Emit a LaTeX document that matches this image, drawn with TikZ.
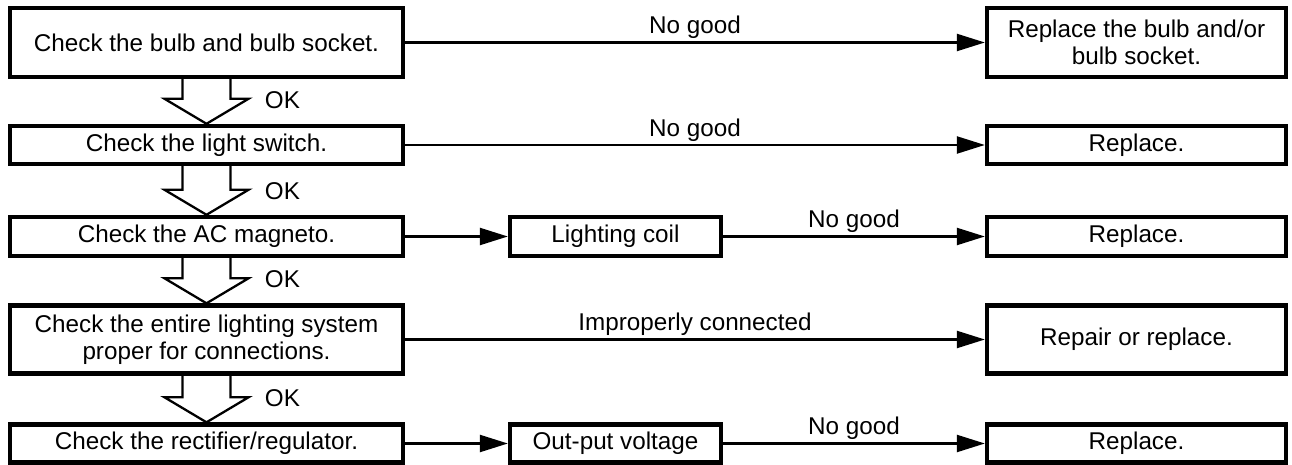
\documentclass[tikz,border=0pt]{standalone}
\usepackage{fontspec}
\setmainfont{Liberation Sans}
\usetikzlibrary{arrows.meta,calc}
\tikzset{
  box/.style={draw, line width=2.5pt, fill=white, align=center, inner sep=2pt},
  leftbox/.style={box, minimum width=7.86cm},
  midbox/.style={box, minimum width=4.22cm},
  rightbox/.style={box, minimum width=5.98cm},
  conn/.style={line width=1.3pt, -{Triangle[length=0.56cm,width=0.34cm]}},
  hollow/.style={line width=1.3pt, line join=miter},
  lbl/.style={above, inner sep=1.5pt},
}

\begin{document}
\begin{tikzpicture}[x=0.02cm, y=-0.02cm, font=\fontsize{13.8}{15.5}\selectfont]
\useasboundingbox (0,0) rectangle (1292,465);
% check steps
\node[leftbox, minimum height=1.38cm] (c1) at (206.5,42.5) {Check the bulb and bulb socket.};
\node[leftbox, minimum height=0.76cm] (c2) at (206.5,145) {Check the light switch.};
\node[leftbox, minimum height=0.78cm] (c3) at (206.5,236.5) {Check the AC magneto.};
\node[leftbox, minimum height=1.36cm] (c4) at (206.5,339.5) {Check the entire lighting system\\proper for connections.};
\node[leftbox, minimum height=0.76cm] (c5) at (206.5,443.5) {Check the rectifier/regulator.};
% intermediate checks
\node[midbox, minimum height=0.78cm] (m3) at (615.5,236.5) {Lighting coil};
\node[midbox, minimum height=0.76cm] (m5) at (615.5,443.5) {Out-put voltage};
% remedies
\node[rightbox, minimum height=1.38cm] (r1) at (1136.5,42.5) {Replace the bulb and/or\\bulb socket.};
\node[rightbox, minimum height=0.76cm] (r2) at (1136.5,145) {Replace.};
\node[rightbox, minimum height=0.78cm] (r3) at (1136.5,236.5) {Replace.};
\node[rightbox, minimum height=1.36cm] (r4) at (1136.5,339.5) {Repair or replace.};
\node[rightbox, minimum height=0.76cm] (r5) at (1136.5,443.5) {Replace.};
% OK arrows
\foreach \a/\b in {c1/c2,c2/c3,c3/c4,c4/c5}{
  \draw[hollow] ($(\a.south)+(-24,0)$) -- ($(\b.north)+(-24,-25)$) -- ($(\b.north)+(-42,-25)$)
    -- (\b.north) -- ($(\b.north)+(42,-25)$) -- ($(\b.north)+(24,-25)$) -- ($(\a.south)+(24,0)$);
  \node (ok\b) at ($(\b.north)+(76,-24)$) {OK};
}
% no good branches
\draw[conn] (c1.east) -- node[lbl] {No good} (r1.west);
\draw[conn] (c2.east) -- node[lbl] {No good} (r2.west);
\draw[conn] (c3.east) -- (m3.west);
\draw[conn] (m3.east) -- node[lbl] {No good} (r3.west);
\draw[conn] (c4.east) -- node[lbl] {Improperly connected} (r4.west);
\draw[conn] (c5.east) -- (m5.west);
\draw[conn] (m5.east) -- node[lbl] {No good} (r5.west);
\end{tikzpicture}
\end{document}
